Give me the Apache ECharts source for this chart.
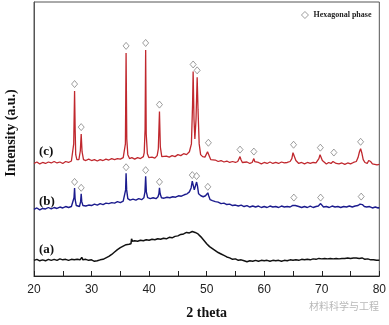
<!DOCTYPE html>
<html>
<head>
<meta charset="utf-8">
<style>
  html, body { margin: 0; padding: 0; background: #fff; }
  #chart { width: 389px; height: 325px; }
</style>
<script src="https://cdn.jsdelivr.net/npm/echarts@6/dist/echarts.min.js"></script>
</head>
<body>
<div id="chart"></div>
<script>
// XRD patterns: [2theta, intensity (a.u.)], stacked with offsets already included
const curveA = [
  [20,16],[20.5,17],[21,15.5],[21.5,16.5],[22,15.5],[22.5,17],[23,16],[23.5,17],[24,16],[24.5,17.5],
  [25,16.5],[25.5,17],[26,16],[26.5,17],[27,16.5],[27.5,17],[28,16.5],[28.3,19],[28.5,16.5],[29,17],
  [29.5,16],[30,16.5],[30.5,15],[31,15.5],[31.5,16.5],[32,17],[32.5,18.5],[33,20],[33.5,22],[34,24.5],
  [34.5,27],[35,29],[35.5,30.5],[36,32],[36.5,32.5],[36.85,33],[36.95,38],[37.1,35.5],[37.5,36],[38,35.5],
  [38.5,36.5],[39,36],[39.5,37],[40,36.5],[40.5,37.5],[41,37],[41.5,38],[42,37.5],[42.5,38.5],[43,38],
  [43.5,39.5],[44,39],[44.5,40.5],[45,41],[45.5,42.5],[46,43],[46.5,44.5],[47,44],[47.5,45.5],[48,44.5],
  [48.5,43],[49,40],[49.5,36.5],[50,33],[50.5,30],[51,28],[51.5,26],[52,24],[52.5,22.5],[53,21],
  [53.5,19.5],[54,18.5],[54.5,17],[55,17.5],[55.5,16],[56,16.5],[56.5,15.5],[57,14.5],[57.5,15.5],[58,15],
  [58.5,16],[59,15],[59.5,16],[60,15.5],[60.5,16],[61,15],[61.5,16],[62,15.5],[62.5,16],[63,15],
  [63.5,16],[64,15.5],[64.5,16.5],[65,16],[65.5,16.5],[66,16],[66.5,17],[67,16.5],[67.5,17],[68,16.5],
  [68.5,17.5],[69,17],[69.5,18],[70,17.5],[70.5,18],[71,17.5],[71.5,18],[72,17.5],[72.5,18],[73,17.5],
  [73.5,18],[74,18],[74.5,18.5],[75,18],[75.5,18.5],[76,18.5],[76.5,18],[77,18.5],[77.5,17],[78,17.5],
  [78.5,16.5],[79,16.5],[79.5,16],[80,16]
];

const curveB = [
  [20,68],[20.5,69.5],[21,67.5],[21.5,69],[22,68.5],[22.5,70],[23,68.5],[23.5,70],[24,69],[24.5,70.5],
  [25,69.5],[25.5,71],[26,70],[26.5,71],
  [26.8,72],[26.95,80],[27.05,90],[27.15,78],[27.35,72],
  [27.9,71],[28.1,76],[28.2,84],[28.3,76],[28.5,72],
  [29,71.5],[29.5,72.5],[30,72],[30.5,73.5],[31,72.5],[31.5,74],[32,73],[32.5,74.5],[33,74],[33.5,75],
  [34,74.5],[34.5,76],[35,75],[35.5,76.5],
  [35.8,78],[35.92,88],[36.0,105],[36.1,88],[36.3,79],
  [36.7,77.5],[37.2,78.5],[37.7,77.5],[38.2,79],[38.7,78],[39.1,80],
  [39.28,86],[39.4,102],[39.52,86],[39.75,80],
  [40.2,79],[40.7,80],[41.2,79],[41.55,81],
  [41.7,84],[41.8,90],[41.92,84],[42.15,80],
  [42.6,79.5],[43.1,80.5],[43.6,80],[44.1,81],[44.6,80.5],[45.1,82],[45.6,81.5],[46.1,83],[46.6,84],[47.0,86],
  [47.3,90],[47.5,97],[47.65,95],[47.85,88],
  [48.05,90],[48.25,96],[48.4,92],[48.6,84],
  [49.0,82],[49.4,81],[49.8,82],
  [50.1,84],[50.2,85],[50.35,82],[50.6,78],
  [51,77],[51.5,76],[52,75.5],[52.5,74],[53,74.5],[53.5,73],[54,73.5],[54.5,72],[55,72.5],[55.5,71.5],
  [56,72.5],[56.5,71],[57,72],[57.5,70.5],[58,71.5],[58.5,70.5],[59,71.5],[59.5,70],[60,71],[60.5,70],
  [61,71.5],[61.5,70.5],[62,71],[62.5,70],[63,71.5],[63.5,70.5],[64,71],[64.5,70.5],
  [64.9,72],[65.15,74],[65.4,72],[65.7,70.5],
  [66,71],[66.5,70],[67,71],[67.5,70],[68,71.5],[68.5,70],[69,71],[69.4,71.5],
  [69.65,73],[69.8,74],[70.0,72],[70.3,70.5],
  [70.8,71],[71.3,70],[71.8,71.5],[72.3,70.5],[72.8,71],[73.3,70],[73.8,71],[74.3,70.5],[74.8,71.5],[75.3,70.5],
  [75.8,71.5],[76.3,72],
  [76.65,73.5],[76.85,75],[77.05,73],[77.4,71],
  [77.8,70.5],[78.3,71],[78.8,69.5],[79.3,70.5],[79.8,69.5],[80,70]
];

const curveC = [
  [20,115],[20.5,116.5],[21,114.5],[21.5,116],[22,115],[22.5,116.5],[23,115.5],[23.5,117],[24,115.5],[24.5,116.5],
  [25,115],[25.5,117],[26,116],[26.5,117.5],
  [26.7,118],[26.9,135],[27.05,189],[27.15,150],[27.25,124],[27.45,119],
  [27.8,119],[28.05,128],[28.2,145],[28.35,127],[28.6,119],
  [29,118],[29.5,119.5],[30,118],[30.5,119],[31,117.5],[31.5,119],[32,118],[32.5,119.5],[33,118.5],[33.5,120],
  [34,119],[34.5,120],[35,119.5],[35.5,121],
  [35.7,122],[35.88,135],[36.0,228],[36.12,140],[36.3,124],[36.6,120],
  [37,121],[37.5,119.5],[38,121],[38.5,120],[39,122],
  [39.15,126],[39.3,150],[39.4,231],[39.5,145],[39.7,125],[39.95,121],
  [40.5,121.5],[41,120.5],[41.4,123],
  [41.6,130],[41.8,168],[41.95,132],[42.2,122],
  [42.5,121],[43,122.5],[43.5,121.5],[44,123],[44.5,122],[45,124],[45.5,123],[46,125],[46.5,124],[47,127],
  [47.35,135],[47.55,175],[47.65,209],[47.8,160],[47.95,140],
  [48.15,160],[48.35,203],[48.5,170],[48.7,135],[48.95,124],
  [49.3,122],[49.7,121.5],[50.0,123],
  [50.15,127],[50.3,129],[50.45,126],[50.7,119],
  [51,118],[51.5,118.5],[52,117],[52.5,118],[53,116.5],[53.5,117.5],[54,116],[54.5,117],[55,116],[55.4,117],
  [55.65,119],[55.8,122],[55.95,119],[56.2,116],
  [56.5,115.5],[57,116.5],[57.5,115],[57.9,116],
  [58.1,118],[58.2,120],[58.35,117],[58.6,115],
  [59,116],[59.5,114.5],[60,116],[60.5,115],[61,116.5],[61.5,115],[62,116],[62.5,115],[63,116.5],[63.5,115.5],
  [64,116],[64.5,117],
  [64.8,120],[65.0,126],[65.1,127],[65.25,124],[65.5,118],[65.8,116],
  [66,115],[66.5,116],[67,114.5],[67.5,116],[68,115],[68.5,116],[69,115.5],[69.3,117],
  [69.5,120],[69.7,124],[69.85,123],[70.1,118],[70.4,116],
  [70.8,114.5],[71.2,116],[71.6,115],
  [71.95,117],[72.1,119],[72.25,117],[72.5,115],
  [73,114.5],[73.5,115.5],[74,114],[74.5,115.5],[75,114.5],[75.5,116],[76,117],
  [76.3,121],[76.55,127],[76.75,130],[76.95,126],[77.2,119],[77.5,116],
  [77.9,115],[78.15,118],[78.3,120],[78.5,117],[78.8,114.5],
  [79.2,114],[79.6,113.5],[80,114]
];

// Indexed reflections of the hexagonal phase (peak tops)
const hexPeaksC = [
  [27.05,189],[28.2,145],[36.0,228],[39.4,231],[41.8,168],[47.65,209],[48.35,203],
  [50.3,129],[55.8,122],[58.2,120],[65.1,127],[69.75,124],[72.1,119],[76.75,130]
];
const hexPeaksB = [
  [27.05,90],[28.2,84],[36.0,105],[39.4,102],[41.8,90],[47.5,97],[48.25,96],
  [50.2,85],[65.15,74],[69.8,74],[76.85,75]
];

const xTicks = [20, 30, 40, 50, 60, 70, 80];
const curveLabels = ['(a)', '(b)', '(c)'];
const legendName = 'Hexagonal phase';
const yTitle = 'Intensity (a.u.)';
const xTitle = '2 theta';

const serif = '"Liberation Serif", "DejaVu Serif", serif';
const sans = '"Liberation Sans", Arial, sans-serif';

const chart = echarts.init(document.getElementById('chart'), null, { renderer: 'canvas' });

const hollowDiamond = { color: '#fff', borderColor: '#777', borderWidth: 0.9 };

const diamondStyle = {
  type: 'scatter',
  name: legendName,
  symbol: 'diamond',
  symbolSize: [6, 7],
  itemStyle: hollowDiamond,
  z: 5,
  silent: true
};

const lineBase = {
  type: 'line',
  showSymbol: false,
  symbol: 'none',
  smooth: false,
  silent: true,
  animation: false
};

chart.setOption({
  animation: false,
  backgroundColor: '#fff',
  grid: {
    left: 34, right: 8, top: 2, bottom: 43,
    show: true, borderColor: '#555', borderWidth: 1
  },
  legend: {
    data: [{ name: legendName, icon: 'diamond', itemStyle: hollowDiamond }],
    left: 301, top: 11, padding: 0,
    itemWidth: 7, itemHeight: 7, itemGap: 4,
    textStyle: { fontFamily: serif, fontWeight: 'bold', fontSize: 8, color: '#222' },
    selectedMode: false
  },
  xAxis: {
    type: 'value',
    min: xTicks[0], max: xTicks[xTicks.length - 1], interval: 10,
    name: xTitle,
    nameLocation: 'middle', nameGap: 30,
    nameTextStyle: { fontFamily: serif, fontWeight: 'bold', fontSize: 14, color: '#111' },
    axisLine: { show: true, lineStyle: { color: '#222', width: 1 } },
    axisTick: { show: true, inside: true, length: 5, lineStyle: { color: '#222' } },
    minorTick: { show: true, splitNumber: 2, length: 5, lineStyle: { color: '#222' } },
    axisLabel: { fontFamily: sans, fontSize: 12, color: '#222', margin: 8 },
    splitLine: { show: false }
  },
  yAxis: {
    type: 'value',
    min: 0, max: 280,
    axisLine: { show: true, lineStyle: { color: '#555' } },
    axisTick: { show: false },
    axisLabel: { show: false },
    splitLine: { show: false }
  },
  series: [
    Object.assign({}, lineBase, { name: 'a', data: curveA, lineStyle: { color: '#111', width: 1.5 } }),
    Object.assign({}, lineBase, { name: 'b', data: curveB, lineStyle: { color: '#1c1c8e', width: 1.4 } }),
    Object.assign({}, lineBase, { name: 'c', data: curveC, lineStyle: { color: '#c0282e', width: 1.3 } }),
    Object.assign({}, diamondStyle, { data: hexPeaksC, symbolOffset: [0, -7] }),
    Object.assign({}, diamondStyle, { data: hexPeaksB, symbolOffset: [0, -6] })
  ],
  graphic: [
    {
      type: 'text', x: 11, y: 133, rotation: Math.PI / 2,
      style: { text: yTitle, font: 'bold 14px ' + serif, fill: '#111', align: 'center', verticalAlign: 'middle' }
    },
    { type: 'text', left: 39, top: 243, style: { text: curveLabels[0], font: 'bold 13px ' + serif, fill: '#111' } },
    { type: 'text', left: 39, top: 195, style: { text: curveLabels[1], font: 'bold 13px ' + serif, fill: '#111' } },
    { type: 'text', left: 39, top: 145, style: { text: curveLabels[2], font: 'bold 13px ' + serif, fill: '#111' } },
    { type: 'text', left: 309, top: 301, style: { text: '材料科学与工程', font: '10px "Noto Sans CJK SC", sans-serif', fill: '#b8b8b8' } }
  ]
});
</script>
</body>
</html>
